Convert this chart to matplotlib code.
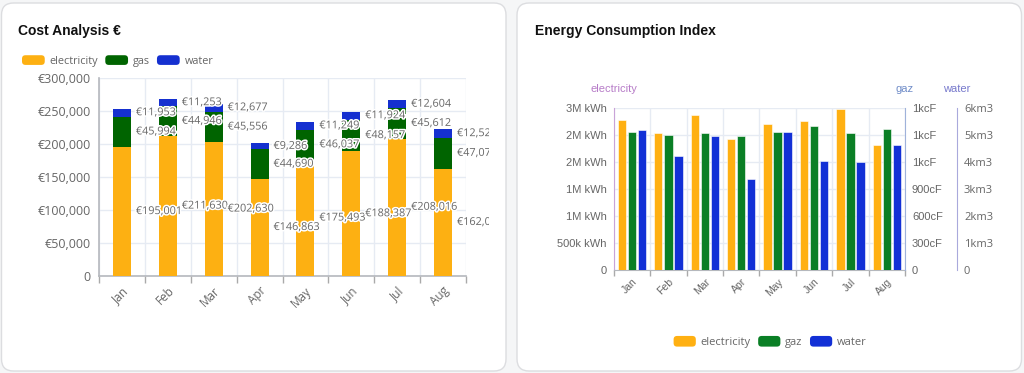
import matplotlib
matplotlib.use("Agg")
import matplotlib.pyplot as plt
import matplotlib.patheffects as pe
from matplotlib.patches import FancyBboxPatch, Patch
from matplotlib.legend_handler import HandlerPatch
from matplotlib.transforms import Bbox, IdentityTransform, ScaledTranslation
from matplotlib.ticker import FixedLocator, FuncFormatter
import numpy as np

# ---------------- data ----------------
months = ["Jan", "Feb", "Mar", "Apr", "May", "Jun", "Jul", "Aug"]

cost_electricity = [195001, 211630, 202630, 146863, 175493, 188387, 208016, 162045]
cost_gas = [45994, 44946, 45556, 44690, 46037, 48157, 45612, 47071]
cost_water = [11953, 11253, 12677, 9286, 11249, 11924, 12604, 12523]
cost_ticks = [0, 50000, 100000, 150000, 200000, 250000, 300000]

cons_electricity = [2783000, 2536000, 2876000, 2425000, 2709000, 2764000, 2981000, 2319000]
cons_gaz = [1533, 1503, 1522, 1492, 1536, 1606, 1522, 1570]
cons_water = [5195, 4241, 4972, 3377, 5121, 4045, 3996, 4638]

elec_ticks = [0, 500000, 1000000, 1500000, 2000000, 2500000, 3000000]
elec_tick_labels = ["0", "500k kWh", "1M kWh", "1M kWh", "2M kWh", "2M kWh", "3M kWh"]
gaz_ticks = [0, 300, 600, 900, 1200, 1500, 1800]
gaz_tick_labels = ["0", "300cF", "600cF", "900cF", "1kcF", "1kcF", "1kcF"]
water_ticks = [0, 1000, 2000, 3000, 4000, 5000, 6000]
water_tick_labels = ["0", "1km3", "2km3", "3km3", "4km3", "5km3", "6km3"]

# ---------------- style ----------------
W, H = 1024, 373
DPI = 100
C_ORANGE_L, C_GREEN_L, C_BLUE_L = "#FDB012", "#006400", "#1530D0"
C_ORANGE_R, C_GREEN_R, C_BLUE_R = "#FFB012", "#0A7F25", "#1230D6"
GRID = "#e6ebf3"
TXT = "#666666"
FONT = ["Open Sans", "DejaVu Sans"]
FONT2 = ["Liberation Sans", "DejaVu Sans"]

plt.rcParams["font.family"] = FONT

fig = plt.figure(figsize=(W / DPI, H / DPI), dpi=DPI)
fig.patch.set_facecolor("#f5f6f7")


def frac(x0, y0, x1, y1):
    """pixel box (top-left origin) -> figure fraction rect"""
    return [x0 / W, (H - y1) / H, (x1 - x0) / W, (y1 - y0) / H]


def shift(label, dx, dy):
    label.set_transform(label.get_transform() +
                        ScaledTranslation(dx / DPI, -dy / DPI, fig.dpi_scale_trans))


class RoundHandler(HandlerPatch):
    def create_artists(self, legend, orig_handle, xdescent, ydescent,
                       width, height, fontsize, trans):
        p = FancyBboxPatch((-xdescent, -ydescent), width, height,
                           boxstyle="round,pad=0,rounding_size=2.5",
                           facecolor=orig_handle.get_facecolor(),
                           edgecolor="none", transform=trans)
        return [p]


# cards
for (x0, y0, x1, y1) in [(1.5, 3, 506, 371), (517, 3, 1021.5, 371)]:
    card = FancyBboxPatch((x0, H - y1), x1 - x0, y1 - y0,
                          boxstyle="round,pad=0,rounding_size=12",
                          transform=IdentityTransform(), facecolor="white",
                          edgecolor="#dcdde0", linewidth=1.0, zorder=-5)
    fig.patches.append(card)

# titles
fig.text(18 / W, 1 - 30.5 / H, "Cost Analysis €", fontsize=10, fontweight="bold",
         family=FONT2, color="#111111", va="center", ha="left")
fig.text(535 / W, 1 - 30.5 / H, "Energy Consumption Index", fontsize=10,
         fontweight="bold", family=FONT2, color="#111111", va="center", ha="left")

# ================= left chart =================
ax = fig.add_axes(frac(99, 77.7, 466, 276))
ax.set_facecolor("none")
x = np.arange(len(months))
bw = 0.39
e = np.array(cost_electricity)
g = np.array(cost_gas)
w = np.array(cost_water)
ax.bar(x, e, bw, color=C_ORANGE_L, zorder=3)
ax.bar(x, g, bw, bottom=e, color=C_GREEN_L, zorder=3)
ax.bar(x, w, bw, bottom=e + g, color=C_BLUE_L, zorder=3)
ax.set_xlim(-0.5, len(months) - 0.5)
ax.set_ylim(0, 300000)
ax.yaxis.set_major_locator(FixedLocator(cost_ticks))
ax.yaxis.set_major_formatter(FuncFormatter(lambda v, p: "0" if v == 0 else f"€{int(v):,}"))
ax.tick_params(axis="y", length=0, pad=6, labelsize=9, labelcolor=TXT)
ax.set_xticks(x)
ax.set_xticklabels(months, rotation=45, ha="right", rotation_mode="anchor",
                   fontsize=8.5, color=TXT)
for lab in ax.get_xticklabels():
    shift(lab, -4, -3)
ax.set_xticks(np.arange(-0.5, len(months)), minor=True)
ax.tick_params(axis="x", which="major", length=0, pad=6)
ax.tick_params(axis="x", which="minor", length=5, color="#aaaaaa", width=1)
ax.grid(axis="y", color=GRID, linewidth=1, zorder=0)
ax.grid(axis="x", which="minor", color=GRID, linewidth=1, zorder=0)
ax.set_axisbelow(True)
for s in ["top", "right"]:
    ax.spines[s].set_visible(False)
ax.spines["left"].set_color("#b5b8bd")
ax.spines["bottom"].set_color("#b5b8bd")
ax.spines["left"].set_linewidth(1.2)
ax.spines["bottom"].set_linewidth(1.2)

clip = Bbox.from_extents(0, 0, 489, H)
stroke = [pe.withStroke(linewidth=2.2, foreground="white")]
for i in range(len(months)):
    for bottom, val in [(0, e[i]), (e[i], g[i]), (e[i] + g[i], w[i])]:
        t = ax.annotate(f"€{val:,}", (x[i] + bw / 2, bottom + val / 2),
                        xytext=(5, 0), textcoords="offset pixels",
                        ha="left", va="center", fontsize=7.8, color=TXT,
                        path_effects=stroke, annotation_clip=False, zorder=5)
        t.set_clip_on(True)
        t.set_clip_box(clip)

hm = {Patch: RoundHandler()}
fig.legend(handles=[Patch(facecolor=C_ORANGE_L, label="electricity"),
                    Patch(facecolor=C_GREEN_L, label="gas"),
                    Patch(facecolor=C_BLUE_L, label="water")],
           handler_map=hm,
           loc="center left", bbox_to_anchor=(22 / W, 1 - 61 / H), ncol=3,
           frameon=False, fontsize=7.8, handlelength=2.1, handleheight=1.0,
           handletextpad=0.45, columnspacing=0.65, labelcolor=TXT,
           borderaxespad=0, borderpad=0)

# ================= right chart =================
ax1 = fig.add_axes(frac(613.7, 108.3, 905, 270))
ax1.set_facecolor("none")
ax2 = ax1.twinx()
ax3 = ax1.twinx()
bw2 = 0.23
off = 0.275
ax1.bar(x - off, cons_electricity, bw2, color=C_ORANGE_R, edgecolor="white",
        linewidth=0.4, zorder=3)
ax2.bar(x, cons_gaz, bw2, color=C_GREEN_R, edgecolor="white", linewidth=0.4, zorder=3)
ax3.bar(x + off, cons_water, bw2, color=C_BLUE_R, edgecolor="white", linewidth=0.4, zorder=3)
ax1.set_xlim(-0.5, len(months) - 0.5)
ax1.set_ylim(0, 3000000)
ax2.set_ylim(0, 1800)
ax3.set_ylim(0, 6000)
ax1.set_yticks(elec_ticks)
ax1.set_yticklabels(elec_tick_labels)
ax2.set_yticks(gaz_ticks)
ax2.set_yticklabels(gaz_tick_labels)
ax3.set_yticks(water_ticks)
ax3.set_yticklabels(water_tick_labels)
for a in (ax1, ax2, ax3):
    a.tick_params(axis="y", length=0, pad=5, labelsize=8, labelcolor=TXT)
    for lab in a.get_yticklabels():
        lab.set_family(FONT2)
ax1.set_xticks(x)
ax1.set_xticklabels(months, rotation=45, ha="right", rotation_mode="anchor",
                    fontsize=7.5, color=TXT)
for lab in ax1.get_xticklabels():
    lab.set_family(FONT2)
    shift(lab, 0, -2)
ax1.set_xticks(np.arange(-0.5, len(months)), minor=True)
ax1.tick_params(axis="x", which="major", length=0, pad=5)
ax1.tick_params(axis="x", which="minor", length=4, color="#aaaaaa", width=1)
ax1.grid(axis="y", color=GRID, linewidth=1, zorder=0)
ax1.grid(axis="x", which="minor", color=GRID, linewidth=1, zorder=0)
ax1.set_axisbelow(True)

ax1.spines["top"].set_visible(False)
ax1.spines["right"].set_visible(False)
ax1.spines["left"].set_color("#c9a3d8")
ax1.spines["bottom"].set_color("#b5b8bd")
for a in (ax2, ax3):
    a.spines["top"].set_visible(False)
    a.spines["left"].set_visible(False)
    a.spines["bottom"].set_visible(False)
ax2.spines["right"].set_color("#9fb2da")
ax3.spines["right"].set_position(("outward", 52 * 72 / DPI))
ax3.spines["right"].set_color("#a9a9dc")

fig.text(614 / W, 1 - 89 / H, "electricity", color="#b77cc8", fontsize=8,
         family=FONT2, ha="center", va="center")
fig.text(905 / W, 1 - 89 / H, "gaz", color="#6f8cc8", fontsize=8,
         family=FONT2, ha="center", va="center")
fig.text(957 / W, 1 - 89 / H, "water", color="#7779cc", fontsize=8,
         family=FONT2, ha="center", va="center")

fig.legend(handles=[Patch(facecolor=C_ORANGE_R, label="electricity"),
                    Patch(facecolor=C_GREEN_R, label="gaz"),
                    Patch(facecolor=C_BLUE_R, label="water")],
           handler_map=hm,
           loc="center", bbox_to_anchor=(770 / W, 1 - 342 / H), ncol=3,
           frameon=False, fontsize=8, handlelength=2.0, handleheight=1.1,
           handletextpad=0.4, columnspacing=0.7, labelcolor=TXT,
           borderaxespad=0, borderpad=0)

fig.savefig("out.png", dpi=DPI, facecolor=fig.get_facecolor())
